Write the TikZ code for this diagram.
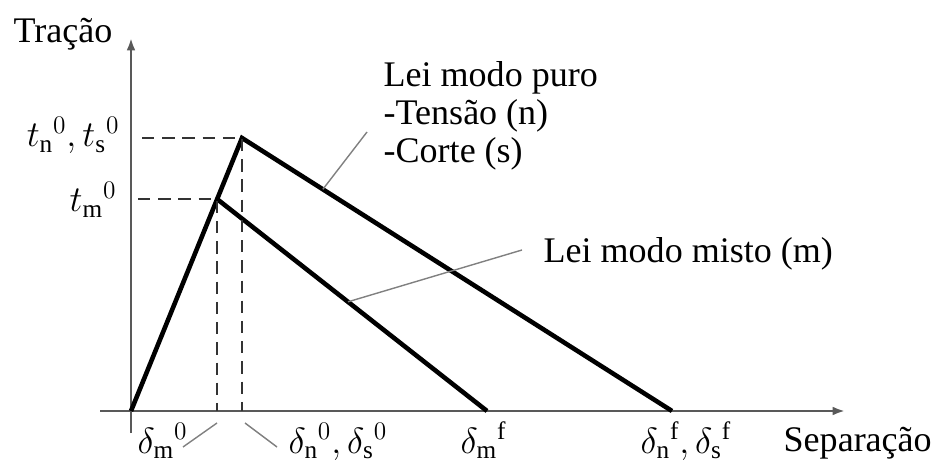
\documentclass[tikz,border=0pt]{standalone}
\usepackage{fontspec}
\setmainfont{Liberation Serif}
\usetikzlibrary{arrows.meta, positioning, calc}

\begin{document}
\begin{tikzpicture}[thick,
    law/.style={line width=2.6pt, black, line join=miter},
    guide/.style={gray!40!black, line width=1.4pt, dash pattern=on 7pt off 4.5pt},
    leader/.style={gray, line width=0.8pt},
    lbl/.style={font=\fontsize{20.5}{21.6}\selectfont, inner sep=0pt}]

    \useasboundingbox (-2.62,-1.08) rectangle (16.24,8.22);

    % Axes
    \draw[gray!70!black, line width=1.4pt, -{Latex[length=7pt, width=5pt]}] (0,-0.44) -- (0,7.46) coordinate (ytip);
    \draw[gray!70!black, line width=1.4pt, -{Latex[length=7pt, width=5pt]}] (-0.62,0) -- (14.28,0) coordinate (xtip);
    \node[lbl, anchor=base east] (trac) at (-0.36,7.36) {Tração};
    \node[lbl, anchor=base west] (sep) at (13.04,-0.8) {Separação};

    % Laws
    \coordinate (O) at (0,0);
    \coordinate (P) at (2.22,5.46);
    \coordinate (M) at (1.72,4.24);
    \coordinate (Pf) at (10.82,0);
    \coordinate (Mf) at (7.12,0);
    \draw[law] (O) -- (P) -- (Pf);
    \draw[law] (M) -- (Mf);

    % Projections
    \draw[guide] (0.22,5.46) -- (P) -- (P |- O);
    \draw[guide] (0.14,4.24) -- (M) -- (M |- O);

    % Traction labels
    \node[lbl, anchor=base east] (tns) at (-0.22,5.28) {$t_{\mathrm{n}}{}^{0},t_{\mathrm{s}}{}^{0}$};
    \node[lbl, anchor=base east] (tm) at (-0.28,3.98) {$t_{\mathrm{m}}{}^{0}$};

    % Separation labels
    \node[lbl, anchor=base west] (dm0) at (0.12,-0.84) {$\delta_{\mathrm{m}}{}^{0}$};
    \node[lbl, anchor=base west] (dns0) at (3.14,-0.84) {$\delta_{\mathrm{n}}{}^{0},\delta_{\mathrm{s}}{}^{0}$};
    \node[lbl, anchor=base west] (dmf) at (6.58,-0.84) {$\delta_{\mathrm{m}}{}^{\mathrm{f}}$};
    \node[lbl, anchor=base west] (dnsf) at (10.18,-0.84) {$\delta_{\mathrm{n}}{}^{\mathrm{f}},\delta_{\mathrm{s}}{}^{\mathrm{f}}$};
    \coordinate (a1) at (1.04,-0.72);
    \coordinate (a2) at (1.72,-0.24);
    \coordinate (b1) at (2.28,-0.24);
    \coordinate (b2) at (2.92,-0.72);
    \draw[leader] (a1) -- (a2);
    \draw[leader] (b1) -- (b2);

    % Law labels
    \node[lbl, anchor=north west, align=left] (puro) at (5.04,7.0) {Lei modo puro\\-Tensão (n)\\-Corte (s)};
    \node[lbl, anchor=base west] (misto) at (8.24,2.96) {Lei modo misto (m)};
    \coordinate (pt) at (4.72,5.58);
    \coordinate (mt) at (7.82,3.22);
    \draw[leader] ($(P)!0.188!(Pf)$) -- (pt);
    \draw[leader] ($(M)!0.485!(Mf)$) -- (mt);
\end{tikzpicture}
\end{document}
